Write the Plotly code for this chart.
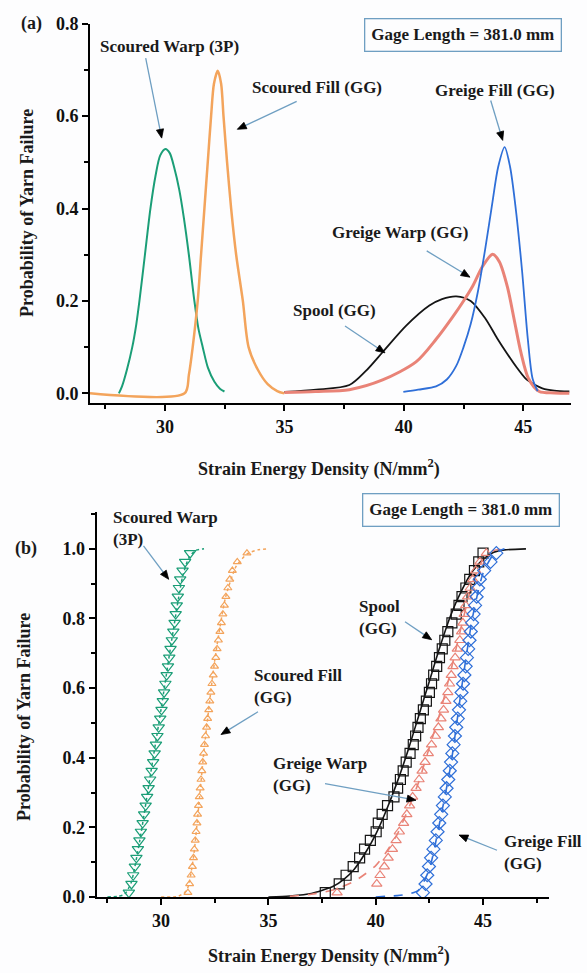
import plotly.graph_objects as go

W, H = 587, 973

# ---------------- panel (a): probability density curves ----------------
sw_x = [28.07, 28.2, 28.4, 28.63, 28.8, 28.93, 29.16, 29.39, 29.6, 29.8, 30.02, 30.2, 30.38, 30.6, 30.79, 31.0, 31.23, 31.4, 31.58, 31.8, 32.07, 32.3, 32.49]
sw_p = [0.0, 0.015, 0.05, 0.1, 0.15, 0.2, 0.3, 0.4, 0.47, 0.515, 0.529, 0.52, 0.49, 0.44, 0.38, 0.3, 0.2, 0.14, 0.1, 0.055, 0.025, 0.01, 0.004]

sf_x = [26.86, 30.82, 31.0, 31.16, 31.37, 31.51, 31.65, 31.79, 31.93, 32.05, 32.21, 32.35, 32.45, 32.6, 32.77, 32.98, 33.26, 33.5, 33.9, 34.3, 34.7, 35.0]
sf_p = [0.0, 0.0, 0.04, 0.1, 0.2, 0.3, 0.4, 0.5, 0.6, 0.67, 0.698, 0.67, 0.6, 0.5, 0.4, 0.3, 0.2, 0.1, 0.05, 0.02, 0.005, 0.0]

sp_x = [35.0, 36.33, 37.72, 38.4, 39.11, 40.09, 41.07, 41.6, 42.2, 42.8, 43.4, 43.9, 44.3, 44.7, 45.1, 45.5, 45.8, 46.3, 46.93]
sp_p = [0.003, 0.008, 0.018, 0.048, 0.089, 0.146, 0.19, 0.204, 0.21, 0.2, 0.163, 0.12, 0.088, 0.058, 0.032, 0.018, 0.011, 0.006, 0.004]

gw_x = [35.0, 36.3, 37.72, 39.11, 40.51, 41.35, 42.04, 42.5, 42.88, 43.3, 43.72, 44.0, 44.34, 44.62, 44.9, 45.22, 45.67, 46.3, 46.93]
gw_p = [0.002, 0.004, 0.008, 0.029, 0.068, 0.117, 0.165, 0.2, 0.232, 0.275, 0.301, 0.285, 0.23, 0.16, 0.089, 0.032, 0.004, 0.001, 0.0]

gf_x = [39.98, 40.6, 41.35, 41.8, 42.2, 42.5, 42.8, 43.1, 43.4, 43.7, 43.95, 44.22, 44.45, 44.67, 44.95, 45.18, 45.39, 45.6]
gf_p = [0.003, 0.008, 0.015, 0.03, 0.06, 0.1, 0.15, 0.22, 0.31, 0.41, 0.49, 0.533, 0.49, 0.407, 0.266, 0.124, 0.032, 0.005]

# ---------------- panel (b): cumulative probability of failure ----------------
rank_p = [0.0125, 0.0375, 0.0625, 0.0875, 0.1125, 0.1375, 0.1625, 0.1875, 0.2125, 0.2375,
          0.2625, 0.2875, 0.3125, 0.3375, 0.3625, 0.3875, 0.4125, 0.4375, 0.4625, 0.4875,
          0.5125, 0.5375, 0.5625, 0.5875, 0.6125, 0.6375, 0.6625, 0.6875, 0.7125, 0.7375,
          0.7625, 0.7875, 0.8125, 0.8375, 0.8625, 0.8875, 0.9125, 0.9375, 0.9625, 0.9875]

sw_pts = [28.5, 28.62, 28.7, 28.78, 28.85, 28.92, 28.99, 29.06, 29.14, 29.21,
          29.28, 29.35, 29.42, 29.49, 29.56, 29.63, 29.7, 29.76, 29.83, 29.89,
          29.96, 30.02, 30.08, 30.14, 30.2, 30.26, 30.32, 30.38, 30.44, 30.5,
          30.57, 30.63, 30.68, 30.73, 30.78, 30.83, 30.89, 31.0, 31.12, 31.35]
sf_pts = [31.25, 31.33, 31.4, 31.46, 31.51, 31.55, 31.59, 31.63, 31.67, 31.7,
          31.74, 31.78, 31.82, 31.86, 31.9, 31.94, 31.98, 32.02, 32.07, 32.12,
          32.17, 32.22, 32.27, 32.32, 32.37, 32.43, 32.49, 32.55, 32.61, 32.67,
          32.74, 32.81, 32.88, 32.95, 33.02, 33.11, 33.2, 33.32, 33.55, 34.0]
sp_pts = [37.65, 38.3, 38.62, 38.95, 39.25, 39.48, 39.75, 40.02, 40.12, 40.3,
          40.55, 40.85, 41.02, 41.15, 41.28, 41.42, 41.6, 41.75, 41.86, 41.97,
          42.08, 42.22, 42.36, 42.5, 42.6, 42.7, 42.84, 42.97, 43.1, 43.22,
          43.36, 43.55, 43.75, 43.88, 44.02, 44.2, 44.38, 44.6, 44.8, 45.0]
gw_pts = [38.2, 40.05, 40.2, 40.4, 40.58, 40.78, 40.95, 41.1, 41.3, 41.45,
          41.58, 41.72, 41.88, 42.02, 42.16, 42.3, 42.45, 42.6, 42.78, 42.92,
          43.04, 43.16, 43.27, 43.36, 43.44, 43.52, 43.6, 43.7, 43.8, 43.92,
          44.0, 44.06, 44.12, 44.19, 44.28, 44.4, 44.52, 44.66, 44.85, 45.15]
gf_pts = [42.2, 42.32, 42.4, 42.48, 42.58, 42.69, 42.8, 42.88, 42.96, 43.05,
          43.13, 43.22, 43.3, 43.38, 43.45, 43.51, 43.57, 43.63, 43.69, 43.75,
          43.82, 43.88, 43.94, 44.0, 44.07, 44.13, 44.19, 44.25, 44.31, 44.37,
          44.43, 44.49, 44.56, 44.63, 44.7, 44.77, 44.85, 45.05, 45.35, 45.62]

# fitted CDF curves
sw_fit_x = [27.5, 28.0, 28.3, 28.6, 29.0, 29.5, 30.0, 30.5, 31.0, 31.3, 31.6, 32.0]
sw_fit_p = [0.0, 0.002, 0.008, 0.04, 0.16, 0.35, 0.54, 0.74, 0.92, 0.975, 0.995, 1.0]
sf_fit_x = [30.0, 30.8, 31.2, 31.5, 32.0, 32.5, 33.0, 33.5, 34.0, 34.5, 35.0]
sf_fit_p = [0.0, 0.002, 0.02, 0.11, 0.42, 0.68, 0.86, 0.95, 0.985, 0.997, 1.0]
sp_fit_x = [35.0, 36.0, 37.0, 38.0, 38.5, 39.0, 39.5, 40.0, 40.5, 41.0, 41.5, 42.0, 42.5, 43.0, 43.5, 44.0, 44.5, 45.0, 45.5, 46.0, 47.0]
sp_fit_p = [0.0, 0.003, 0.01, 0.03, 0.05, 0.08, 0.125, 0.18, 0.25, 0.33, 0.42, 0.52, 0.62, 0.72, 0.81, 0.88, 0.935, 0.97, 0.99, 0.997, 1.0]
gw_fit_x = [36.0, 37.0, 38.0, 39.0, 40.0, 40.5, 41.0, 41.5, 42.0, 42.5, 43.0, 43.5, 44.0, 44.5, 45.0, 45.5, 46.0]
gw_fit_p = [0.002, 0.008, 0.02, 0.045, 0.09, 0.13, 0.18, 0.25, 0.33, 0.43, 0.53, 0.65, 0.78, 0.9, 0.97, 0.995, 1.0]
gf_fit_x = [40.0, 40.5, 41.0, 41.5, 42.0, 42.5, 43.0, 43.5, 44.0, 44.5, 45.0, 45.5, 46.0]
gf_fit_p = [0.0, 0.002, 0.004, 0.008, 0.02, 0.08, 0.22, 0.38, 0.6, 0.8, 0.93, 0.985, 1.0]

GREEN = "#1b9e77"
ORANGE = "#f3a45c"
BLACK = "#151515"
RED = "#e98377"
BLUE = "#2f6fd8"
ARROW = "#6f9fc2"
SERIF = "Liberation Serif"

fig = go.Figure()

# panel (a)
for xs, ys, col, w in [(sw_x, sw_p, GREEN, 2), (sf_x, sf_p, ORANGE, 2.5), (sp_x, sp_p, BLACK, 1.8),
                       (gw_x, gw_p, RED, 3), (gf_x, gf_p, BLUE, 1.8)]:
    fig.add_trace(go.Scatter(x=xs, y=ys, mode="lines", line=dict(color=col, width=w, shape="spline", smoothing=0.8),
                             xaxis="x", yaxis="y", showlegend=False, hoverinfo="skip"))

# panel (b) fitted lines
for xs, ys, col, dash, w in [(sw_fit_x, sw_fit_p, GREEN, "dot", 1.5), (sf_fit_x, sf_fit_p, ORANGE, "dot", 1.5),
                             (sp_fit_x, sp_fit_p, BLACK, "solid", 1.6), (gw_fit_x, gw_fit_p, RED, "dash", 1.6),
                             (gf_fit_x, gf_fit_p, BLUE, "dash", 1.6)]:
    fig.add_trace(go.Scatter(x=xs, y=ys, mode="lines", line=dict(color=col, width=w, dash=dash, shape="spline", smoothing=0.6),
                             xaxis="x2", yaxis="y2", showlegend=False, hoverinfo="skip"))

# panel (b) markers
for xs, col, sym, size in [(sw_pts, GREEN, "triangle-down-open", 10), (sf_pts, ORANGE, "triangle-up-open", 7),
                           (sp_pts, BLACK, "square-open", 10), (gw_pts, RED, "triangle-up-open", 9),
                           (gf_pts, BLUE, "diamond-open", 10)]:
    fig.add_trace(go.Scatter(x=xs, y=rank_p, mode="markers",
                             marker=dict(symbol=sym, size=size, color=col, line=dict(color=col, width=1.2)),
                             xaxis="x2", yaxis="y2", showlegend=False, hoverinfo="skip"))

def X(px):
    return px / W

def Y(py):
    return 1 - py / H

tickfont = dict(family=SERIF, size=18, color="#111", weight="bold")
axis_common = dict(showline=True, linewidth=2, linecolor="black", ticks="outside", ticklen=6, tickwidth=2,
                   tickcolor="black", showgrid=False, zeroline=False, tickfont=tickfont)

fig.update_layout(
    width=W, height=H, margin=dict(l=0, r=0, t=0, b=0),
    paper_bgcolor="#fdfdfe", plot_bgcolor="#fdfdfe",
    xaxis=dict(domain=[X(90), X(571)], range=[26.86, 47.0], anchor="y", dtick=5, tick0=0,
               minor=dict(ticks="outside", dtick=2.5, ticklen=4, tickwidth=1.5, tickcolor="black"), **axis_common),
    yaxis=dict(domain=[Y(402), Y(14.8)], range=[-0.0212, 0.8005], anchor="x", dtick=0.2, tick0=0, tickformat=".1f",
               minor=dict(ticks="outside", dtick=0.1, ticklen=4, tickwidth=1.5, tickcolor="black"), **axis_common),
    xaxis2=dict(domain=[X(96.7), X(548.5)], range=[27.0, 48.05], anchor="y2", dtick=5, tick0=0,
                minor=dict(ticks="outside", dtick=2.5, ticklen=4, tickwidth=1.5, tickcolor="black"), **axis_common),
    yaxis2=dict(domain=[Y(905.7), Y(513.3)], range=[0, 1.105], anchor="x2", dtick=0.2, tick0=0, tickformat=".1f",
                minor=dict(ticks="outside", dtick=0.1, ticklen=4, tickwidth=1.5, tickcolor="black"), **axis_common),
)

tfont = dict(family=SERIF, size=17, color="#1a1a1a", weight="bold")
ann = []
shapes = []

def label(text, px, py, align="center", xanchor="center", size=17, angle=0):
    f = dict(tfont)
    f["size"] = size
    ann.append(dict(text=text, x=X(px), y=Y(py), xref="paper", yref="paper", showarrow=False,
                    xanchor=xanchor, yanchor="middle", align=align, font=f, textangle=angle))

def arrow(tail, head, hl=9.0, hw=3.6):
    tx, ty = tail
    hx, hy = head
    dx, dy = hx - tx, hy - ty
    L = (dx * dx + dy * dy) ** 0.5
    ux, uy = dx / L, dy / L
    bx, by = hx - ux * hl, hy - uy * hl
    shapes.append(dict(type="line", xref="paper", yref="paper", x0=X(tx), y0=Y(ty), x1=X(bx + ux * 2), y1=Y(by + uy * 2),
                       line=dict(color=ARROW, width=1.3)))
    p1 = (bx - uy * hw, by + ux * hw)
    p2 = (bx + uy * hw, by - ux * hw)
    path = "M {:.5f},{:.5f} L {:.5f},{:.5f} L {:.5f},{:.5f} Z".format(X(hx), Y(hy), X(p1[0]), Y(p1[1]), X(p2[0]), Y(p2[1]))
    shapes.append(dict(type="path", xref="paper", yref="paper", path=path, fillcolor="black",
                       line=dict(color="black", width=0.8)))

# panel (a) labels
label("(a)", 31, 15, size=18)
label("Scoured Warp (3P)", 169, 38)
arrow((145.7, 50), (161.7, 131.7))
label("Scoured Fill (GG)", 317, 80)
arrow((296.7, 94.3), (237.3, 122.7))
label("Greige Fill (GG)", 495, 83)
arrow((490.7, 93.3), (502.7, 134))
label("Greige Warp (GG)", 400, 228)
arrow((426.7, 246.7), (470, 273.5))
label("Spool (GG)", 334, 307)
arrow((345, 323.3), (385, 350.7))
ann.append(dict(text="Gage Length = 381.0 mm", x=X(463), y=Y(27), xref="paper", yref="paper", showarrow=False,
                xanchor="center", yanchor="middle", font=tfont, bordercolor=ARROW, borderwidth=1.3, borderpad=6))
label("Strain Energy Density (N/mm<sup>2</sup>)", 319, 468, size=18)
label("Probability of Yarn Failure", 27, 208, angle=-90, size=18)

# panel (b) labels
label("(b)", 26, 550, size=18)
label("Scoured Warp<br>(3P)", 111, 529.5, align="left", xanchor="left")
arrow((143.5, 547.5), (168.7, 581.7))
label("Scoured Fill<br>(GG)", 252, 691.5, align="left", xanchor="left")
arrow((258, 716.7), (221, 740))
label("Spool<br>(GG)", 357, 621, align="left", xanchor="left")
arrow((405, 625), (431.7, 643.3))
label("Greige Warp<br>(GG)", 271.4, 781, align="left", xanchor="left")
arrow((325, 790), (416, 807))
label("Greige Fill<br>(GG)", 501.7, 860, align="left", xanchor="left")
arrow((497, 858), (459, 842.5))
ann.append(dict(text="Gage Length = 381.0 mm", x=X(461), y=Y(511), xref="paper", yref="paper", showarrow=False,
                xanchor="center", yanchor="middle", font=tfont, bordercolor=ARROW, borderwidth=1.3, borderpad=6))
label("Strain Energy Density (N/mm<sup>2</sup>)", 328.5, 965, size=18)
label("Probability of Yarn Failure", 24, 722, angle=-90, size=18)

fig.update_layout(annotations=ann, shapes=shapes)
fig.write_html("out.html")
